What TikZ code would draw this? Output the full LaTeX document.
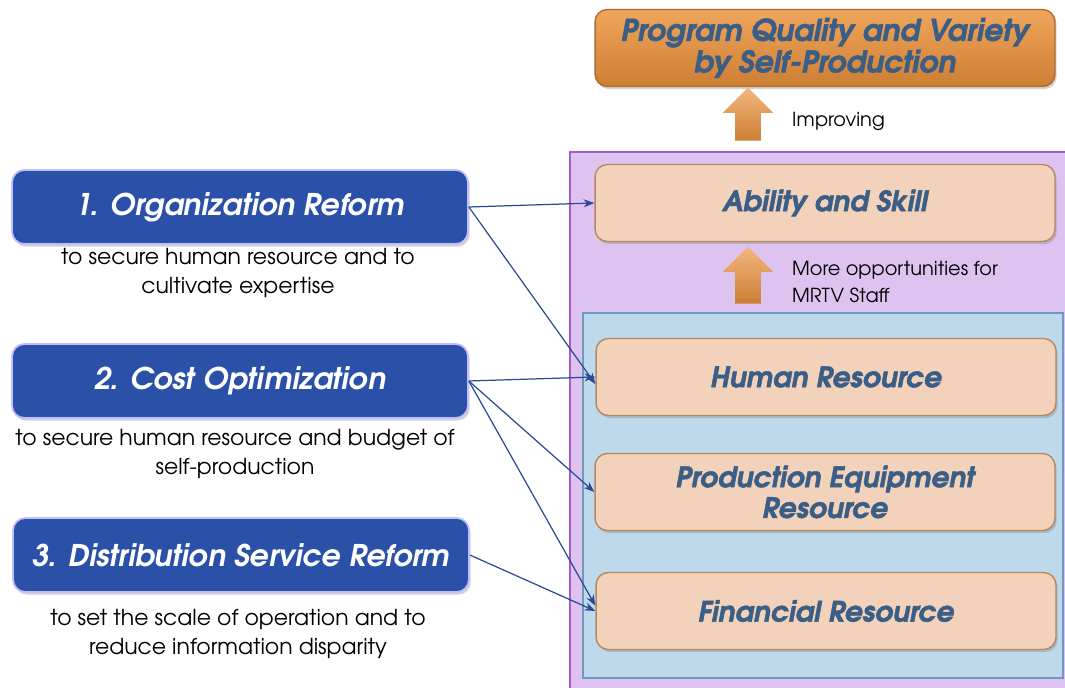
\documentclass[tikz,border=0pt]{standalone}
\usepackage{fontspec}
\setmainfont{texgyreadventor}[Extension=.otf, UprightFont=*-regular, BoldFont=*-bold,
  ItalicFont=*-italic, BoldItalicFont=*-bolditalic]
\newfontface\heavytitle{texgyreadventor-bolditalic.otf}[FakeBold=1.6]
\usetikzlibrary{shapes.arrows,shadows,arrows.meta}
\definecolor{navybox}{HTML}{2B50A8}
\definecolor{peach}{HTML}{F2D2BA}
\definecolor{peachline}{HTML}{B8875C}
\definecolor{steeltext}{HTML}{3B5E86}
\definecolor{lilac}{HTML}{DEC3F0}
\definecolor{lilacline}{HTML}{A55CC8}
\definecolor{skyfill}{HTML}{BDD9EB}
\definecolor{skyline}{HTML}{6D9BBA}
\definecolor{linkblue}{HTML}{2C4A96}
\definecolor{goaltop}{HTML}{F0A65C}
\definecolor{goalbottom}{HTML}{CC7E34}
\definecolor{goalline}{HTML}{B06C2C}
\begin{document}
\begin{tikzpicture}[x=0.02cm,y=-0.02cm,>=Stealth,
  resbox/.style={draw=peachline, fill=peach, rounded corners=7pt, line width=0.8pt,
    minimum width=9.2cm, minimum height=1.54cm, align=center,
    text=steeltext, font=\fontsize{16}{17.5}\heavytitle,
    drop shadow={opacity=0.35, shadow xshift=1pt, shadow yshift=-1.5pt}},
  goalbox/.style={resbox, fill=none, top color=goaltop, bottom color=goalbottom,
    draw=goalline, font=\fontsize{17}{18}\heavytitle},
  measure/.style={draw=blue!25!white, fill=navybox, rounded corners=7pt, line width=1pt,
    minimum width=9.12cm, minimum height=1.48cm, text=white,
    font=\fontsize{17}{19}\selectfont\bfseries\itshape,
    drop shadow={opacity=0.35, shadow xshift=1pt, shadow yshift=-1.5pt}},
  note/.style={align=center, font=\fontsize{12.5}{16.5}\selectfont},
  label/.style={align=left, anchor=west, font=\fontsize{11}{15.3}\selectfont},
  uparrow/.style={single arrow, shape border rotate=90, draw=none,
    top color=goaltop!80!white, bottom color=goalbottom,
    inner sep=0.25cm, single arrow head extend=0.25cm,
    single arrow head indent=0pt},
  link/.style={->, draw=linkblue, line width=0.7pt}]
\useasboundingbox (0,0) rectangle (1065,688);

% panels
\draw[draw=lilacline, fill=lilac, line width=1pt] (570,152) rectangle (1068,692);
\draw[draw=skyline, fill=skyfill, line width=0.8pt] (583,313) rectangle (1063,678);

% goal and resources
\node[goalbox] (goal) at (825,48) {Program Quality and Variety\\by Self-Production};
\node[resbox] (skill) at (825,203) {Ability and Skill};
\node[resbox] (human) at (826,377) {Human Resource};
\node[resbox] (equip) at (825,492) {Production Equipment\\Resource};
\node[resbox] (fin) at (826,611) {Financial Resource};

\node[uparrow, minimum height=1.06cm] (improve) at (748,120.5) {};
\node[label] (improvelbl) at (786,121) {Improving};
\node[uparrow, minimum height=1.14cm] (chance) at (748,281.5) {};
\node[label] (chancelbl) at (786,282) {More opportunities for\\MRTV Staff};

% measures
\node[measure] (org) at (240,207) {1. Organization Reform};
\node[measure] (cost) at (240,381) {2. Cost Optimization};
\node[measure] (dist) at (241,555) {3. Distribution Service Reform};
\node[note] (orgnote) at (238,273) {to secure human resource and to\\cultivate expertise};
\node[note] (costnote) at (235,454) {to secure human resource and budget of\\self-production};
\node[note] (distnote) at (238,634) {to set the scale of operation and to\\reduce information disparity};

\draw[link] (org.east) -- (skill.west);
\draw[link] (org.east) -- ([yshift=-4pt]human.west);
\draw[link] (cost.east) -- (human.west);
\draw[link] (cost.east) -- (equip.west);
\draw[link] (cost.east) -- ([yshift=3pt]fin.west);
\draw[link] (dist.east) -- (fin.west);
\end{tikzpicture}
\end{document}
